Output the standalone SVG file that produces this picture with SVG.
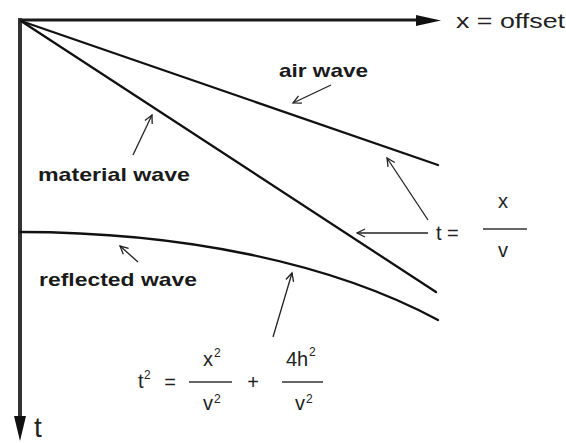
<svg xmlns="http://www.w3.org/2000/svg" width="566" height="443" viewBox="0 0 566 443">
<style>
.ax{stroke:#1a1a1a;stroke-width:3;fill:none}
.wave{stroke:#111;stroke-width:2.3;fill:none;stroke-linecap:round}
.ptr{stroke:#222;stroke-width:1.3;fill:none;marker-end:url(#v)}
.lbl{font-family:"Liberation Sans",Arial,sans-serif;font-weight:bold;font-size:19px;fill:#1a1a1a}
.eq{font-family:"Liberation Sans",Arial,sans-serif;font-size:20px;fill:#222}
.sup{font-family:"Liberation Sans",Arial,sans-serif;font-size:12px;fill:#222}
.bar{stroke:#333;stroke-width:1.6}
</style>
<defs>
<marker id="v" markerUnits="userSpaceOnUse" markerWidth="12" markerHeight="12" refX="9" refY="5" orient="auto">
<path d="M1,1 L9,5 L1,9" stroke="#222" stroke-width="1.3" fill="none"/>
</marker>
</defs>
<rect width="566" height="443" fill="#fff"/>
<g id="axes">
<line class="ax" x1="18" y1="20" x2="420" y2="20"/>
<polygon points="416,15 441,20.5 416,26" fill="#111"/>
<line class="ax" x1="20" y1="18" x2="20" y2="420" style="stroke:#333;stroke-width:4"/>
<polygon points="14,416 20,441 26,416" fill="#111"/>
<text class="eq" x="456" y="28" textLength="109" lengthAdjust="spacingAndGlyphs">x = offset</text>
<text class="eq" x="34" y="437" style="font-size:28px">t</text>
</g>
<g id="waves">
<line id="air-wave" class="wave" x1="21" y1="21" x2="438" y2="165"/>
<line id="material-wave" class="wave" x1="21" y1="21" x2="436" y2="292"/>
<path id="reflected-wave" class="wave" d="M20,232 C180,232 330,262 438,320"/>
</g>
<g id="label-air">
<text class="lbl" x="279" y="77" textLength="89" lengthAdjust="spacingAndGlyphs">air wave</text>
</g>
<g id="label-material">
<text class="lbl" x="38" y="181" textLength="152" lengthAdjust="spacingAndGlyphs">material wave</text>
</g>
<g id="label-reflected">
<text class="lbl" x="39" y="286" textLength="158" lengthAdjust="spacingAndGlyphs">reflected wave</text>
</g>
<g id="eq-direct">
<text class="eq" x="436" y="240">t =</text>
<text class="eq" x="503" y="208" text-anchor="middle">x</text>
<line class="bar" x1="483" y1="229" x2="527" y2="229"/>
<text class="eq" x="503" y="257" text-anchor="middle">v</text>
</g>
<g id="eq-reflected">
<text class="eq" x="138" y="388">t</text>
<text class="sup" x="144" y="379">2</text>
<text class="eq" x="170" y="389" text-anchor="middle">=</text>
<line class="bar" x1="189" y1="382" x2="232" y2="382"/>
<text class="eq" x="203" y="366">x</text>
<text class="sup" x="214" y="357">2</text>
<text class="eq" x="203" y="410">v</text>
<text class="sup" x="214" y="403">2</text>
<text class="eq" x="253" y="389" text-anchor="middle">+</text>
<line class="bar" x1="282" y1="382" x2="323" y2="382"/>
<text class="eq" x="286" y="366">4h</text>
<text class="sup" x="309" y="356">2</text>
<text class="eq" x="295" y="410">v</text>
<text class="sup" x="306" y="403">2</text>
</g>
<g id="connectors">
<line class="ptr" x1="331" y1="85" x2="293" y2="103"/>
<line class="ptr" x1="133" y1="155" x2="152" y2="115"/>
<line class="ptr" x1="138" y1="262" x2="120" y2="246"/>
<line class="ptr" x1="273" y1="337" x2="292" y2="273"/>
<line class="ptr" x1="428" y1="220" x2="387" y2="158"/>
<line class="ptr" x1="428" y1="233" x2="357" y2="233"/>
</g>
</svg>
